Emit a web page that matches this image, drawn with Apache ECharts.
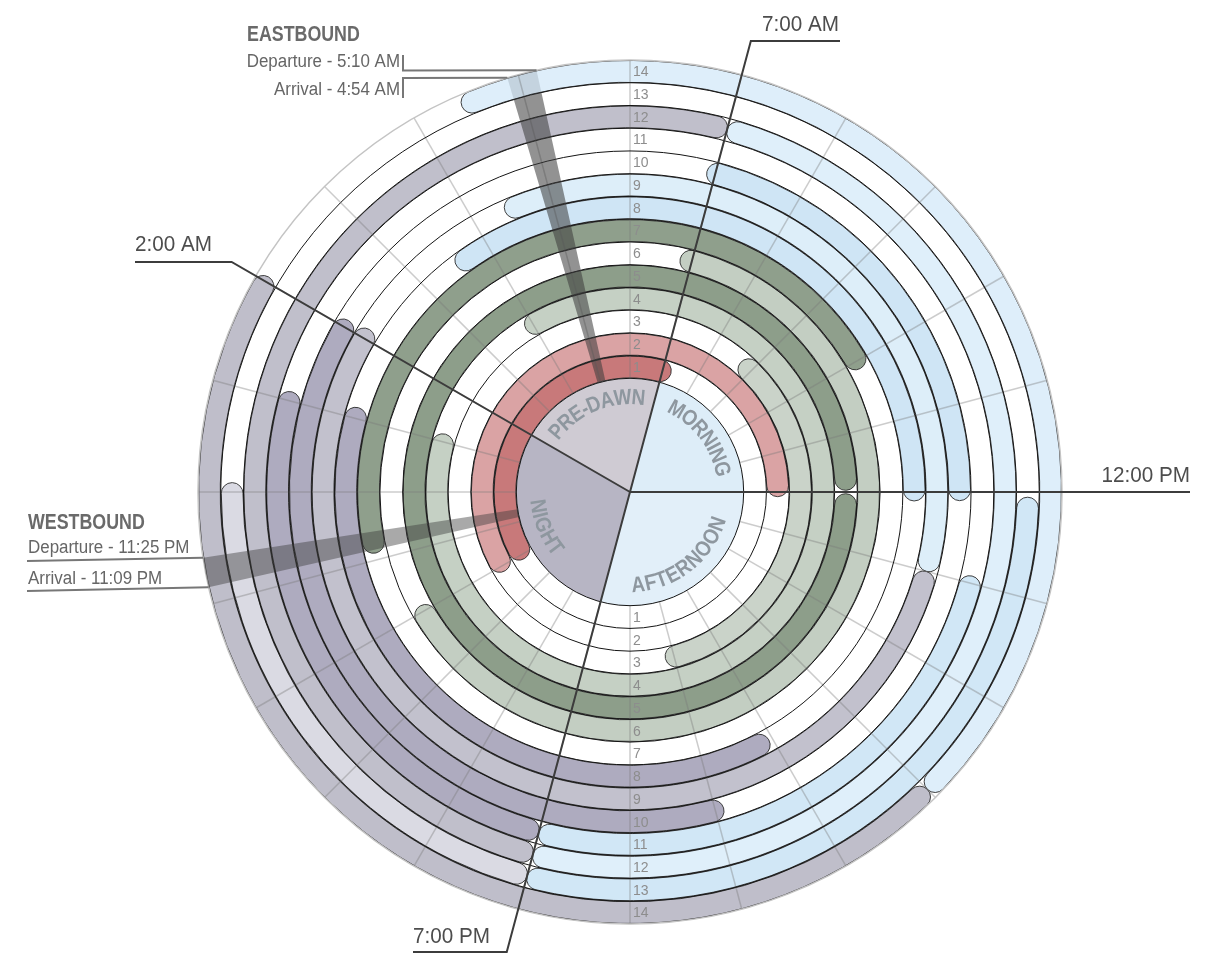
<!DOCTYPE html>
<html><head><meta charset="utf-8">
<script src="https://cdn.jsdelivr.net/npm/echarts@6/dist/echarts.min.js"></script>
<style>html,body{margin:0;padding:0;background:#fff}#c{width:1210px;height:958px}</style>
</head><body><div id="c"></div>
<script>
// ================= DATA =================
const laneNumbers = [1,2,3,4,5,6,7,8,9,10,11,12,13,14];
const laneBoundaries = [0,1,2,3,4,5,6,7,8,9,10,11,12,13,14];
const hourTicks = [0,1,2,3,4,5,6,7,8,9,10,11,12,13,14,15,16,17,18,19,20,21,22,23];
const periodNames = ['PRE-DAWN','MORNING','AFTERNOON','NIGHT'];
const periodStart = [2, 7, 12, 19];
const periodEnd = [7, 12, 19, 26];
const markerHours = [7, 12, 2, 19];
const markerLabels = ['7:00 AM','12:00 PM','2:00 AM','7:00 PM'];
// arcs: [lane, startHour, endHour] (hours > 24 wrap past midnight)
const redDarkArcs = [[1, 21.85, 31.27]];
const redLightArcs = [[2, 21.85, 36.12]];
const greenLightArcs = [[3, 8.7, 17.2], [4, 3.83, 25.16], [6, 6.81, 22.1]];
const greenDarkArcs = [[5, 12.03, 35.97], [7, 23.1, 34.12]];
const blueArcs = [[8, 3.5, 12.12], [9, 4.4, 13.0], [10, 6.9, 12.1], [11, 12.92, 19.0], [12, 7.0, 19.0], [13, 12.05, 19.0], [14, 4.43, 15.0]];
const greyArcs = [[8, 16.05, 25.15], [9, 13.0, 26.13], [10, 16.9, 26.09], [11, 19.0, 25.1], [12, 19.0, 31.0], [13, 19.0, 24.09], [14, 15.0, 26.05]];
const directionNames = ['EASTBOUND','WESTBOUND'];
const departHours = [5 + 10/60, 23 + 25/60];
const arriveHours = [4 + 54/60, 23 + 9/60];
const departLabels = ['Departure - 5:10 AM','Departure - 11:25 PM'];
const arriveLabels = ['Arrival - 4:54 AM','Arrival - 11:09 PM'];

// ================= STYLE / LAYOUT =================
const FONT = '"Liberation Sans", Arial, Helvetica, sans-serif';
const colRedDark = {1:'#c8797a'};
const colRedLight = {2:'#daa3a4'};
const colGreenLight = {3:'#cad3c9', 4:'#c5d0c4', 6:'#c3cec2'};
const colGreenDark = {5:'#8d9e8a', 7:'#8f9f8c'};
const colBlue = {8:'#cfe5f5', 9:'#ddeef9', 10:'#cfe5f5', 11:'#d1e7f6', 12:'#dfeffa', 13:'#d1e7f6', 14:'#deeefa'};
const colGrey = {8:'#aeabbf', 9:'#c2c1cd', 10:'#aeabbf', 11:'#aeabbf', 12:'#c0bfcb', 13:'#dadae3', 14:'#bfbeca'};
const pieColors = ['#cfcbd3', '#ddedf8', '#e2eff9', '#b7b5c4'];
const PIE_LABEL_RV = -0.87;
const PIE_TEXT_SX = 0.86;
const markerLayout = [
  { endY: 41, hx: 840, tx: 762, ty: 25, align: 'left' },
  { endX: 1190, tx: 1190, ty: 476, align: 'right' },
  { endY: 262, hx: 135, tx: 135, ty: 245, align: 'left' },
  { endY: 952, hx: 413, tx: 413, ty: 937, align: 'left' }
];
const bandLayout = [
  { outerDark: 13, alpha: 0.56, title: [247, 35, 'left'], dep: [400, 62, 'right'], arr: [400, 90, 'right'],
    depLine: [[403, 55], [403, 70.5]], arrLine: [[403, 98], [403, 78]] },
  { outerDark: 14, alpha: 0.44, title: [28, 523, 'left'], dep: [28, 548, 'left'], arr: [28, 579, 'left'],
    depLine: [[27, 561]], arrLine: [[27, 591]] }
];

const measureCtx = document.createElement('canvas').getContext('2d');
function charWidths(str, font) {
  measureCtx.font = font;
  return Array.from(str).map(c => measureCtx.measureText(c).width);
}
function polarInfo(params, api, rv, h) {
  const cs = params.coordSys;
  const p = api.coord([rv, ((h % 24) + 24) % 24]);
  const dx = p[0] - cs.cx, dy = p[1] - cs.cy;
  return { r: Math.hypot(dx, dy), a: Math.atan2(dy, dx), x: p[0], y: p[1] };
}
function txt(x, y, text, font, fill, align, extra) {
  return Object.assign({ type: 'text', x: x, y: y,
    style: { text: text, font: font, fill: fill, align: align, verticalAlign: 'middle',
             textAlign: align, textVerticalAlign: 'middle' } }, extra || {});
}

function arcRenderer(colors) {
  return function (params, api) {
    const cs = params.coordSys;
    const lane = api.value(0), h0 = api.value(1), h1 = api.value(2);
    const inner = polarInfo(params, api, lane - 1, h0);
    const outer = polarInfo(params, api, lane, h0);
    const endP = polarInfo(params, api, lane, h1);
    let a0 = outer.a, a1 = endP.a;
    while (a1 <= a0) a1 += Math.PI * 2;
    const r0 = inner.r + 0.5, r = outer.r - 0.5;
    return { type: 'sector',
      shape: { cx: cs.cx, cy: cs.cy, r0: r0, r: r, startAngle: a0, endAngle: a1, clockwise: true, cornerRadius: (r - r0) / 2 },
      style: { fill: colors[lane], stroke: '#2a2a2a', lineWidth: 0.9 } };
  };
}
function arcSeries(data, colors) {
  return { type: 'custom', coordinateSystem: 'polar', z: 2, silent: true, data: data, renderItem: arcRenderer(colors) };
}

const chart = echarts.init(document.getElementById('c'), null, { renderer: 'canvas' });
const option = {
  animation: false,
  backgroundColor: '#ffffff',
  polar: { center: [630, 492], radius: [0, 432] },
  angleAxis: { type: 'value', min: 0, max: 24, interval: 1, startAngle: 180, clockwise: true,
    axisLine: { show: false }, axisTick: { show: false }, axisLabel: { show: false }, splitLine: { show: false } },
  radiusAxis: { type: 'value', min: -5, max: 14, interval: 1,
    axisLine: { show: false }, axisTick: { show: false }, axisLabel: { show: false }, splitLine: { show: false } },
  series: [
    arcSeries(redDarkArcs, colRedDark),
    arcSeries(redLightArcs, colRedLight),
    arcSeries(greenLightArcs, colGreenLight),
    arcSeries(greenDarkArcs, colGreenDark),
    arcSeries(blueArcs, colBlue),
    arcSeries(greyArcs, colGrey),
    { // hour grid lines
      type: 'custom', coordinateSystem: 'polar', z: 3, silent: true,
      data: hourTicks.map(h => [h]),
      renderItem: function (params, api) {
        const a = polarInfo(params, api, 0, api.value(0));
        const b = polarInfo(params, api, 14, api.value(0));
        return { type: 'line', shape: { x1: a.x, y1: a.y, x2: b.x, y2: b.y },
          style: { stroke: 'rgba(120,120,120,0.38)', lineWidth: 1.5 } };
      }
    },
    { // center pie
      type: 'custom', coordinateSystem: 'polar', z: 5, silent: true,
      data: periodStart.map((s, i) => [s, periodEnd[i]]),
      renderItem: function (params, api) {
        const cs = params.coordSys, i = params.dataIndex;
        const h0 = api.value(0), h1 = api.value(1);
        const e0 = polarInfo(params, api, 0, h0), e1 = polarInfo(params, api, 0, h1);
        let a0 = e0.a, a1 = e1.a;
        while (a1 <= a0) a1 += Math.PI * 2;
        const children = [{ type: 'sector', shape: { cx: cs.cx, cy: cs.cy, r0: 0, r: e0.r, startAngle: a0, endAngle: a1 },
          style: { fill: pieColors[i] } }];
        const name = periodNames[i];
        const font = 'bold 22px ' + FONT;
        const widths = charWidths(name, font).map(w => w * PIE_TEXT_SX);
        const total = widths.reduce((s, w) => s + w, 0);
        const mid = polarInfo(params, api, PIE_LABEL_RV, (h0 + h1) / 2);
        const upper = Math.sin(mid.a) < 0;
        const rr = mid.r;
        let cum = 0;
        Array.from(name).forEach((ch, j) => {
          const off = (cum + widths[j] / 2 - total / 2) / rr;
          cum += widths[j];
          const a = upper ? mid.a + off : mid.a - off;
          children.push(txt(cs.cx + rr * Math.cos(a), cs.cy + rr * Math.sin(a), ch, font, '#8e979f', 'center',
            { rotation: upper ? (-Math.PI / 2 - a) : (Math.PI / 2 - a), scaleX: PIE_TEXT_SX }));
        });
        return { type: 'group', children: children };
      }
    },
    { // lane boundary circles
      type: 'custom', coordinateSystem: 'polar', z: 6, silent: true,
      data: laneBoundaries.map(v => [v]),
      renderItem: function (params, api) {
        const cs = params.coordSys, v = api.value(0);
        const p = polarInfo(params, api, v, 0);
        return { type: 'circle', shape: { cx: cs.cx, cy: cs.cy, r: p.r },
          style: { fill: 'none', stroke: v === 14 ? '#c4c4c4' : '#151515', lineWidth: v === 14 ? 1.5 : 1 } };
      }
    },
    { // eastbound / westbound bands
      type: 'custom', coordinateSystem: 'polar', z: 7, silent: true,
      data: directionNames.map((n, i) => [arriveHours[i], departHours[i]]),
      renderItem: function (params, api) {
        const cs = params.coordSys, i = params.dataIndex, L = bandLayout[i];
        const hA = api.value(0), hD = api.value(1);
        const pin = polarInfo(params, api, 0, hA);
        const pdark = polarInfo(params, api, L.outerDark, hA);
        const pA = polarInfo(params, api, 14, hA), pD = polarInfo(params, api, 14, hD);
        let a0 = pA.a, a1 = pD.a;
        while (a1 <= a0) a1 += Math.PI * 2;
        const children = [{ type: 'sector', shape: { cx: cs.cx, cy: cs.cy, r0: pin.r, r: pdark.r, startAngle: a0, endAngle: a1 },
          style: { fill: 'rgba(60,60,60,' + L.alpha + ')' } }];
        if (L.outerDark < 14) {
          children.push({ type: 'sector', shape: { cx: cs.cx, cy: cs.cy, r0: pdark.r, r: pA.r, startAngle: a0, endAngle: a1 },
            style: { fill: 'rgba(60,75,90,0.16)' } });
        }
        children.push({ type: 'polyline', shape: { points: L.depLine.concat([[pD.x, pD.y]]) }, style: { stroke: '#777', lineWidth: 2, fill: 'none' } });
        children.push({ type: 'polyline', shape: { points: L.arrLine.concat([[pA.x, pA.y]]) }, style: { stroke: '#777', lineWidth: 2, fill: 'none' } });
        children.push(txt(L.title[0], L.title[1], directionNames[i], 'bold 22px ' + FONT, '#6a6a6a', L.title[2], { scaleX: 0.81 }));
        children.push(txt(L.dep[0], L.dep[1], departLabels[i], '18px ' + FONT, '#666666', L.dep[2], { scaleX: 0.94 }));
        children.push(txt(L.arr[0], L.arr[1], arriveLabels[i], '18px ' + FONT, '#666666', L.arr[2], { scaleX: 0.94 }));
        return { type: 'group', children: children };
      }
    },
    { // main time markers
      type: 'custom', coordinateSystem: 'polar', z: 8, silent: true,
      data: markerHours.map(h => [h]),
      renderItem: function (params, api) {
        const cs = params.coordSys, i = params.dataIndex, L = markerLayout[i];
        const p = polarInfo(params, api, 14, api.value(0));
        const ux = Math.cos(p.a), uy = Math.sin(p.a);
        const t = L.endY != null ? (L.endY - cs.cy) / uy : (L.endX - cs.cx) / ux;
        const ex = cs.cx + ux * t, ey = cs.cy + uy * t;
        const pts = [[cs.cx, cs.cy], [ex, ey]];
        if (L.hx != null) pts.push([L.hx, ey]);
        return { type: 'group', children: [
          { type: 'polyline', shape: { points: pts }, style: { stroke: '#3c3c3c', lineWidth: 2, fill: 'none' } },
          txt(L.tx, L.ty, markerLabels[i], '22px ' + FONT, '#4d4d4d', L.align, { scaleX: 0.94 })
        ] };
      }
    },
    { // lane numbers
      type: 'custom', coordinateSystem: 'polar', z: 9, silent: true,
      data: laneNumbers.map(n => [n]),
      renderItem: function (params, api) {
        const n = api.value(0);
        const top = polarInfo(params, api, n - 0.5, 6);
        const bot = polarInfo(params, api, n - 0.5, 18);
        return { type: 'group', children: [
          txt(top.x + 3, top.y + 1, String(n), '14px ' + FONT, '#8d8d8d', 'left'),
          txt(bot.x + 3, bot.y + 1, String(n), '14px ' + FONT, '#8d8d8d', 'left')
        ] };
      }
    }
  ]
};
chart.setOption(option);
</script>
</body></html>
